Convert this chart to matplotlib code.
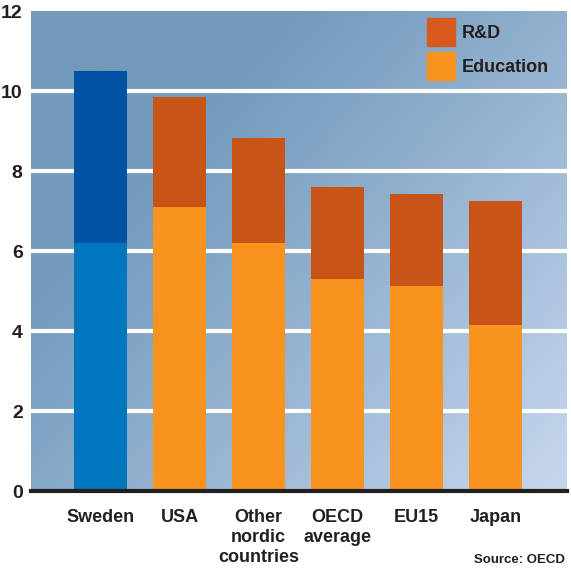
import numpy as np
import matplotlib
matplotlib.use("Agg")
import matplotlib.pyplot as plt
from matplotlib.colors import to_rgb

plt.rcParams['font.family'] = ['Liberation Sans Narrow', 'Liberation Sans', 'DejaVu Sans']

categories = ["Sweden", "USA", "Other\nnordic\ncountries", "OECD\naverage", "EU15", "Japan"]
education = [6.2, 7.1, 6.2, 5.3, 5.13, 4.15]
rnd = [4.3, 2.75, 2.63, 2.3, 2.3, 3.1]
yticks = [0, 2, 4, 6, 8, 10, 12]

edu_colors = ["#0076BF"] + ["#F7931E"] * 5
rnd_colors = ["#0053A4"] + ["#C95418"] * 5
text_color = "#231F20"

fig = plt.figure(figsize=(5.71, 5.68), dpi=100)
ax = fig.add_axes([31 / 571, 77 / 568, 536 / 571, 480 / 568])

x = np.arange(len(categories))
xlim = (-0.88, 5.905)
ax.set_xlim(*xlim)
ax.set_ylim(0, 12)

# diagonal background gradient, darker at top-left
c0 = np.array(to_rgb("#729ABC"))
c1 = np.array(to_rgb("#C8D7EE"))
nx, ny = 300, 300
gx, gy = np.meshgrid(np.linspace(0, 1, nx), np.linspace(1, 0, ny))
u = 0.55 * gx + 0.45 * (1 - gy)
t = np.clip((u - 0.25) / 0.75, 0, 1) ** 1.1
img = c0[None, None, :] * (1 - t[..., None]) + c1[None, None, :] * t[..., None]
ax.imshow(img, extent=(xlim[0], xlim[1], 0, 12), aspect='auto', zorder=0, interpolation='bilinear')

for yv in yticks[1:-1]:
    ax.axhline(yv, color="white", lw=3.0, zorder=1)

width = 0.67
ax.bar(x, education, width=width, color=edu_colors, zorder=2)
ax.bar(x, rnd, width=width, bottom=education, color=rnd_colors, zorder=2)

ax.axhline(0, color=text_color, lw=3.0, zorder=3, clip_on=False)

for s in ax.spines.values():
    s.set_visible(False)

ax.set_yticks(yticks)
ax.set_yticklabels([str(v) for v in yticks], fontsize=14, color=text_color, fontweight='bold')
ax.tick_params(axis='y', length=0, pad=6)
ax.set_xticks(x)
ax.set_xticklabels(categories, fontsize=13, color=text_color, fontweight='bold', linespacing=1.22, va='top')
ax.tick_params(axis='x', length=0, pad=13)

# legend swatches
legend_items = [("R&D", "#D65A1C"), ("Education", "#F7931E")]
for i, (label, col) in enumerate(legend_items):
    top_px = 18 + i * 34
    fig.patches.append(plt.Rectangle((427 / 571, 1 - (top_px + 28) / 568), 28 / 571, 28 / 568,
                                     transform=fig.transFigure, color=col, zorder=5))
    fig.text(462 / 571, 1 - (top_px + 15) / 568, label, fontsize=13, fontweight='bold',
             color=text_color, va='center', ha='left')

fig.text(565 / 571, 1 - 560 / 568, "Source: OECD", fontsize=9.5, fontweight='bold',
         color=text_color, ha='right', va='center')

fig.savefig("out.png", dpi=100, facecolor="white")
